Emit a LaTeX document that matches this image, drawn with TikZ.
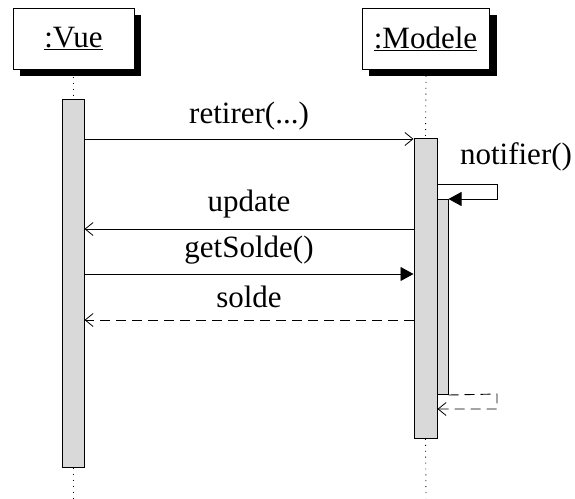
\documentclass[tikz,border=0pt]{standalone}
\usepackage{fontspec}
\setmainfont{Liberation Serif}
\usetikzlibrary{arrows.meta}
\tikzset{
  txt/.style={font=\fontsize{31}{36}\selectfont, inner sep=0pt},
  objbox/.style={draw, fill=white, line width=1pt, minimum height=61pt, inner sep=0pt, txt},
  shade/.style={fill=black},
  actbox/.style={draw, fill=black!15, line width=1pt, inner sep=0pt},
  life/.style={line width=0.9pt, dash pattern=on 0.9pt off 5pt},
  call/.style={line width=0.9pt, -{Straight Barb[length=8pt, width=13pt, line width=0.8pt]}},
  sync/.style={line width=0.9pt, -{Triangle[length=13pt, width=14pt]}},
  reply/.style={line width=0.9pt, dash pattern=on 10pt off 6pt, -{Straight Barb[length=8pt, width=13pt, line width=0.8pt]}},
  msg/.style={txt, anchor=base},
}
\begin{document}
\begin{tikzpicture}[x=1pt, y=-1pt]
  \useasboundingbox (0,0) rectangle (575,498);

  % end points of the lifelines
  \coordinate (vbot) at (73,498);
  \coordinate (mbot) at (426,498);

  % object shadows
  \fill[shade] (20,15) rectangle (141,76);
  \fill[shade] (369,15) rectangle (497,76);

  % objects
  \node[objbox, minimum width=121pt] (vue) at (73.5,38.5) {\underline{:Vue}};
  \node[objbox, minimum width=127pt] (modele) at (425.5,38.5) {\underline{:Modele}};

  % activation bars
  \node[actbox, minimum width=22pt, minimum height=368pt, anchor=north] (actV) at (73,99) {};
  \node[actbox, minimum width=23pt, minimum height=300pt, anchor=north] (actM) at (425.5,138) {};
  \node[actbox, minimum width=11pt, minimum height=195pt, anchor=north] (actN) at (442.5,199) {};

  % dotted lifelines
  \coordinate (vtop) at (73,77);
  \coordinate (mtop) at (426,76);
  \draw[life] (vtop) -- (actV.north);
  \draw[life] (actV.south) -- (vbot);
  \draw[life] (mtop) -- (actM.north);
  \draw[life] (actM.south) -- (mbot);

  % messages between the two objects
  \draw[call] (actV.east |- 0,139) -- (actM.west |- 0,139);
  \node[msg] (lretirer) at (249,123) {retirer(...)};

  \draw[call] (actM.west |- 0,229) -- (actV.east |- 0,229);
  \node[msg] (lupdate) at (249,211) {update};

  \draw[sync] (actV.east |- 0,274) -- (actM.west |- 0,274);
  \node[msg] (lget) at (249,257) {getSolde()};

  \draw[reply] (actM.west |- 0,320) -- (actV.east |- 0,320);
  \node[msg] (lsolde) at (249,307) {solde};

  % self call notifier() and its return
  \coordinate (s1) at (497,184);
  \coordinate (s2) at (497,199);
  \draw[sync] (actM.east |- s1) -- (s1) -- (s2) -- (actN.east |- s2);
  \node[msg] (lnotif) at (516,164) {notifier()};

  \coordinate (r1) at (497,394);
  \coordinate (r2) at (497,409);
  \draw[reply] (actN.south east) -- (r1) -- (r2) -- (actM.east |- r2);
\end{tikzpicture}
\end{document}
